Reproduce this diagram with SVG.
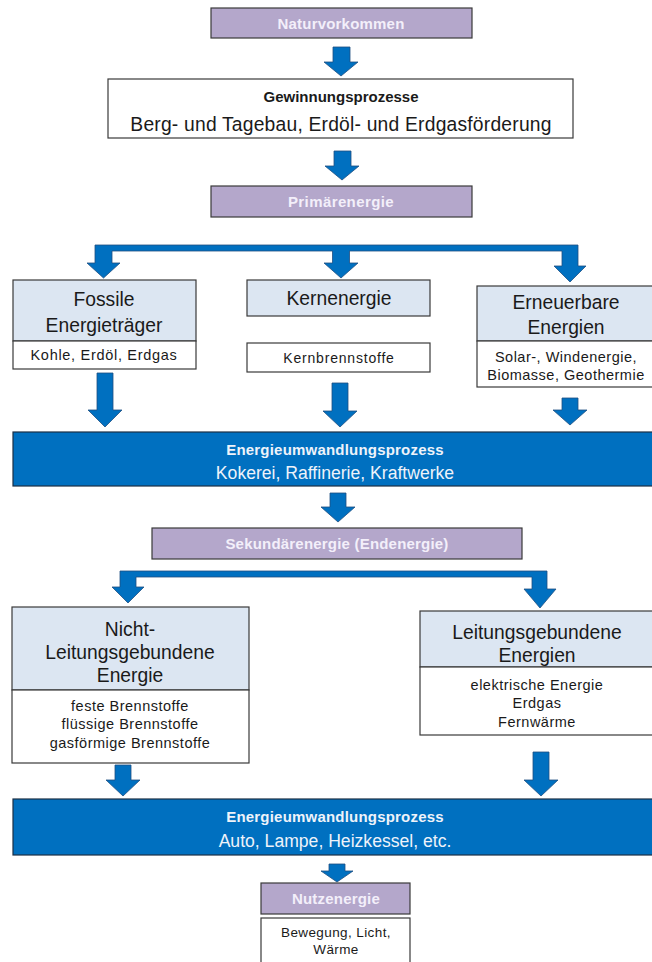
<svg xmlns="http://www.w3.org/2000/svg" width="652" height="962" viewBox="0 0 652 962">
  <style>
    .bg { fill: #ffffff; }
    .stage { fill: #b4a7cb; stroke: #3a3a3a; stroke-width: 1.2; }
    .stage-t { font-family: "Liberation Sans", Arial, sans-serif; font-weight: bold; font-size: 15px; letter-spacing: 0.2px; fill: #f3effa; text-anchor: middle; }
    .head { fill: #dce6f2; stroke: #3a3a3a; stroke-width: 1.2; }
    .plain { fill: #ffffff; stroke: #3a3a3a; stroke-width: 1.2; }
    .band { fill: #0070c0; stroke: #1c2f45; stroke-width: 1.2; }
    .arrow { fill: #0070c0; stroke: #1f4f82; stroke-width: 0.8; stroke-linejoin: miter; }
    .big { font-family: "Liberation Sans", Arial, sans-serif; font-size: 19.3px; fill: #1a1a1a; text-anchor: middle; }
    .small { font-family: "Liberation Sans", Arial, sans-serif; font-size: 14.5px; letter-spacing: 0.5px; fill: #1a1a1a; text-anchor: middle; }
    .tiny { font-family: "Liberation Sans", Arial, sans-serif; font-size: 13.5px; letter-spacing: 0.4px; fill: #1a1a1a; text-anchor: middle; }
    .bold-s { font-family: "Liberation Sans", Arial, sans-serif; font-weight: bold; font-size: 15px; fill: #1a1a1a; text-anchor: middle; }
    .band-b { font-family: "Liberation Sans", Arial, sans-serif; font-weight: bold; font-size: 15px; letter-spacing: 0.2px; fill: #eef3fa; text-anchor: middle; }
    .band-t { font-family: "Liberation Sans", Arial, sans-serif; font-size: 17.6px; fill: #eef3fa; text-anchor: middle; }
  </style>

  <rect class="bg" x="0" y="0" width="652" height="962"/>

  <!-- block arrows and branching bars -->
  <g id="connectors">
    <path class="arrow" d="M333,47 H350 V62 H358 L341,76 L324,62 H333 Z"/>
    <path class="arrow" d="M334,151 H351 V166 H359 L342,180 L325,166 H334 Z"/>
    <path class="arrow" d="M95,245 H578 V266 H586 L570,282 L554,266 H562 V251 H349.5 V263 H358 L341,278 L324,263 H332.5 V251 H112 V263 H120 L103.5,278 L87,263 H95 Z"/>
    <path class="arrow" d="M97,373 H113 V410 H122 L105,427 L88,410 H97 Z"/>
    <path class="arrow" d="M332,383 H348 V411 H357 L340,427 L323,411 H332 Z"/>
    <path class="arrow" d="M562,398 H578 V410 H587 L570,425 L553,410 H562 Z"/>
    <path class="arrow" d="M330,493 H346 V507 H355 L338,522 L321,507 H330 Z"/>
    <path class="arrow" d="M120,571 H547 V589 H556 L540,608 L524,589 H532 V577 H136 V587 H144 L128,603 L112,587 H120 Z"/>
    <path class="arrow" d="M115,765 H131 V780 H140 L123,796 L106,780 H115 Z"/>
    <path class="arrow" d="M533,752 H549 V780 H558 L541,796 L524,780 H533 Z"/>
    <path class="arrow" d="M329,864 H345 V871 H353 L337,882 L321,871 H329 Z"/>
  </g>

  <g id="naturvorkommen">
    <rect class="stage" x="211" y="8" width="261" height="30"/>
    <text class="stage-t" x="341" y="29">Naturvorkommen</text>
  </g>

  <g id="gewinnungsprozesse">
    <rect class="plain" x="108" y="79" width="465" height="59"/>
    <text class="bold-s" x="341" y="102">Gewinnungsprozesse</text>
    <text class="big" x="341" y="131" style="letter-spacing:0.2px">Berg- und Tagebau, Erdöl- und Erdgasförderung</text>
  </g>

  <g id="primaerenergie">
    <rect class="stage" x="211" y="186" width="261" height="31"/>
    <text class="stage-t" x="341" y="207" style="letter-spacing:0.4px">Primärenergie</text>
  </g>

  <g id="fossile">
    <rect class="head" x="13" y="280" width="183" height="61"/>
    <rect class="plain" x="13" y="341" width="183" height="28"/>
    <text class="big" x="104" y="306">Fossile</text>
    <text class="big" x="104" y="332">Energieträger</text>
    <text class="small" x="104" y="360" style="letter-spacing:0.7px">Kohle, Erdöl, Erdgas</text>
  </g>

  <g id="kernenergie">
    <rect class="head" x="247" y="280" width="183" height="36"/>
    <text class="big" x="339" y="305">Kernenergie</text>
  </g>

  <g id="kernbrennstoffe">
    <rect class="plain" x="247" y="343" width="183" height="29"/>
    <text class="small" x="339" y="363" style="font-size:14px;letter-spacing:0.8px">Kernbrennstoffe</text>
  </g>

  <g id="erneuerbare">
    <rect class="head" x="477" y="286" width="176" height="55"/>
    <rect class="plain" x="477" y="341" width="176" height="46"/>
    <text class="big" x="566" y="309">Erneuerbare</text>
    <text class="big" x="566" y="334">Energien</text>
    <text class="small" x="566" y="362">Solar-, Windenergie,</text>
    <text class="small" x="566" y="380">Biomasse, Geothermie</text>
  </g>

  <g id="umwandlung-1">
    <rect class="band" x="13" y="432" width="641" height="54"/>
    <text class="band-b" x="335" y="455">Energieumwandlungsprozess</text>
    <text class="band-t" x="335" y="479">Kokerei, Raffinerie, Kraftwerke</text>
  </g>

  <g id="sekundaerenergie">
    <rect class="stage" x="152" y="528" width="370" height="31"/>
    <text class="stage-t" x="337" y="549">Sekundärenergie (Endenergie)</text>
  </g>

  <g id="nicht-leitungsgebunden">
    <rect class="head" x="12" y="607" width="237" height="83"/>
    <rect class="plain" x="12" y="690" width="237" height="73"/>
    <text class="big" x="130" y="636">Nicht-</text>
    <text class="big" x="130" y="659">Leitungsgebundene</text>
    <text class="big" x="130" y="682">Energie</text>
    <text class="small" x="130" y="711">feste Brennstoffe</text>
    <text class="small" x="130" y="729">flüssige Brennstoffe</text>
    <text class="small" x="130" y="748">gasförmige Brennstoffe</text>
  </g>

  <g id="leitungsgebunden">
    <rect class="head" x="420" y="611" width="233" height="56"/>
    <rect class="plain" x="420" y="667" width="233" height="68"/>
    <text class="big" x="537" y="639">Leitungsgebundene</text>
    <text class="big" x="537" y="662">Energien</text>
    <text class="small" x="537" y="690">elektrische Energie</text>
    <text class="small" x="537" y="708">Erdgas</text>
    <text class="small" x="537" y="727">Fernwärme</text>
  </g>

  <g id="umwandlung-2">
    <rect class="band" x="13" y="799" width="641" height="56"/>
    <text class="band-b" x="335" y="822">Energieumwandlungsprozess</text>
    <text class="band-t" x="335" y="847">Auto, Lampe, Heizkessel, etc.</text>
  </g>

  <g id="nutzenergie">
    <rect class="stage" x="261" y="883" width="149" height="31"/>
    <text class="stage-t" x="336" y="904">Nutzenergie</text>
  </g>

  <g id="nutzen-beispiele">
    <rect class="plain" x="261" y="918" width="149" height="48"/>
    <text class="tiny" x="336" y="937">Bewegung, Licht,</text>
    <text class="tiny" x="336" y="954">Wärme</text>
  </g>
</svg>
